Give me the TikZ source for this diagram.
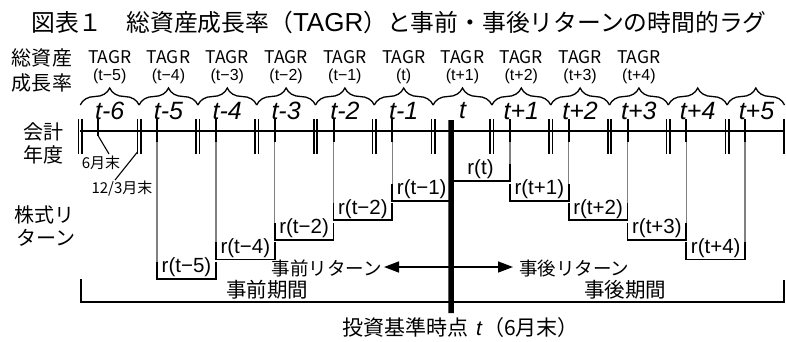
\documentclass[tikz,border=0pt]{standalone}
\usepackage{fontspec}
\setmainfont{Noto Sans CJK JP}
\newfontfamily\lsans{Liberation Sans}
\usetikzlibrary{decorations.pathreplacing,arrows.meta}
\definecolor{gline}{HTML}{808080}
\begin{document}
\begin{tikzpicture}[x=1pt,y=-1pt,
  tl/.style={line width=2pt},
  dbar/.style={line width=1.5pt},
  gl/.style={line width=1.3pt, draw=gline},
  brk/.style={line width=1.8pt},
  brc/.style={decorate, decoration={brace, amplitude=17pt}, line width=1.3pt},
  ttl/.style={font=\fontsize{23.8}{26}\selectfont, inner sep=0pt},
  side/.style={font=\fontsize{20}{22}\selectfont, inner sep=0pt},
  tagr/.style={font=\fontsize{17.5}{19}\selectfont, inner sep=0pt},
  tagrb/.style={font=\lsans\fontsize{16}{18}\selectfont, inner sep=0pt},
  yr/.style={font=\lsans\itshape\fontsize{25}{27}\selectfont, inner sep=0pt},
  ret/.style={font=\lsans\fontsize{20.5}{22}\selectfont, inner sep=0pt},
  small/.style={font=\fontsize{15}{17}\selectfont, inner sep=0pt},
  mid/.style={font=\fontsize{18.5}{21}\selectfont, inner sep=0pt},
  per/.style={font=\fontsize{20.5}{22}\selectfont, inner sep=0pt},
  basel/.style={font=\fontsize{21}{23}\selectfont, inner sep=0pt},
]
\useasboundingbox (0,0) rectangle (786,341);

% title
\node[ttl, anchor=west] (title) at (31,22) {図表１　総資産成長率（{\lsans\fontsize{26}{26}\selectfont TAGR}）と事前・事後リターンの時間的ラグ};

% side labels
\node[side] (s1) at (42,58) {総資産};
\node[side] (s2) at (42,83) {成長率};
\node[side] (s3) at (43,132) {会計};
\node[side] (s4) at (43,155) {年度};
\node[side] (s5) at (44,215) {株式リ};
\node[side] (s6) at (46,238) {ターン};

% coordinates
\foreach \i in {0,...,11}{
  \coordinate (d\i) at ({80.3+58.8*\i},131);
  \coordinate (m\i) at ({98.3+58.8*\i},131);
}
\coordinate (e) at (783.5,131);

% braces
\foreach \i in {0,...,10}{
  \draw[brc] ({80.3+58.8*\i},105) -- ({80.3+58.8*(\i+1)},105);
}
\draw[brc] (727.1,105) -- (784.5,105);

% year labels
\foreach \lab [count=\k from 0] in {t-6,t-5,t-4,t-3,t-2,t-1,t,t+1,t+2,t+3,t+4,t+5}{
  \node[yr] (y\k) at ({109.7+58.8*\k},111) {\lab};
}

% TAGR labels
\foreach \lab [count=\k from 0] in {t−5,t−4,t−3,t−2,t−1,t,t+1,t+2,t+3,t+4}{
  \node[tagr] (ta\k) at ({109.7+58.8*\k},57) {TAGR};
  \node[tagrb] (tb\k) at ({109.7+58.8*\k},76) {(\lab)};
}

% grey lines and return brackets (before t)
\foreach \k/\lab in {1/r(t−1),2/r(t−2),3/r(t−2),4/r(t−4),5/r(t−5)}{
  \pgfmathsetmacro{\L}{181+19.6*\k}
  \pgfmathsetmacro{\xa}{98.3+58.8*(6-\k)}
  \pgfmathsetmacro{\xb}{\xa+58.8}
  \draw[gl] (\xa,142) -- (\xa,{\L-17});
  \draw[brk] (\xa,{\L-17}) -- (\xa,\L) -- (\xb,\L) -- (\xb,{\L-17});
  \node[ret] (rl\k) at ({(\xa+\xb)/2},{\L-11.5}) {\lab};
}
% after t
\foreach \k/\lab in {0/r(t),1/r(t+1),2/r(t+2),3/r(t+3),4/r(t+4)}{
  \pgfmathsetmacro{\L}{181+19.6*\k}
  \pgfmathsetmacro{\xa}{98.3+58.8*(6+\k)}
  \pgfmathsetmacro{\xb}{\xa+58.8}
  \draw[gl] (\xb,142) -- (\xb,{\L-17});
  \draw[brk] (\xa,{\L-17}) -- (\xa,\L) -- (\xb,\L) -- (\xb,{\L-17});
  \node[ret] (rr\k) at ({(\xa+\xb)/2},{\L-11.5}) {\lab};
}

% timeline
\draw[tl] (d0) -- (e);
\foreach \i in {0,...,11}{
  \draw[dbar] ([xshift=-1.7pt]d\i) ++(0,-12) -- ++(0,35);
  \draw[dbar] ([xshift=1.7pt]d\i) ++(0,-12) -- ++(0,35);
}
\draw[tl] (e) ++(0,-12) -- ++(0,35);
\foreach \i in {1,...,5,7,8,9,10,11}{
  \draw[tl] (m\i) ++(0,-12) -- ++(0,23);
}
\draw[tl] (m0) ++(0,-12) -- ++(0,17);

% investment point
\coordinate (tbot) at (451.1,313);
\draw[line width=5.5pt] (m6) ++(0,-11) -- (tbot);

% leaders
\node[small] (jun) at (101,163) {6月末};
\node[small] (mar) at (122,189) {12/3月末};
\coordinate (junA) at (98.3,136);
\coordinate (junB) at (109,154);
\coordinate (marA) at (137.4,152);
\coordinate (marB) at (115,180);
\draw[line width=1.1pt] (junA) -- (junB);
\draw[line width=1.1pt] (marA) -- (marB);

% pre/post returns
\node[mid, anchor=east] (pre) at (382,268) {事前リターン};
\node[mid, anchor=west] (post) at (519,268) {事後リターン};
\draw[{Triangle[length=15pt,width=11pt]}-{Triangle[length=15pt,width=11pt]}, line width=1.5pt]
  ([xshift=2pt,yshift=1pt]pre.east) -- ([xshift=-6pt,yshift=1pt]post.west);

% periods
\coordinate (p1) at (81,279);
\coordinate (p2) at (81,302);
\coordinate (p3) at (783.5,302);
\coordinate (p4) at (783.5,280);
\draw[line width=2pt] (p1) -- (p2) -- (p3) -- (p4);
\node[per] (prep) at (267,290) {事前期間};
\node[per] (postp) at (625,290) {事後期間};

% base
\node[basel, anchor=west] (base) at (342,328) {投資基準時点\hspace{8pt}{\lsans\itshape t}\hspace{1pt}（6月末）};
\end{tikzpicture}
\end{document}
